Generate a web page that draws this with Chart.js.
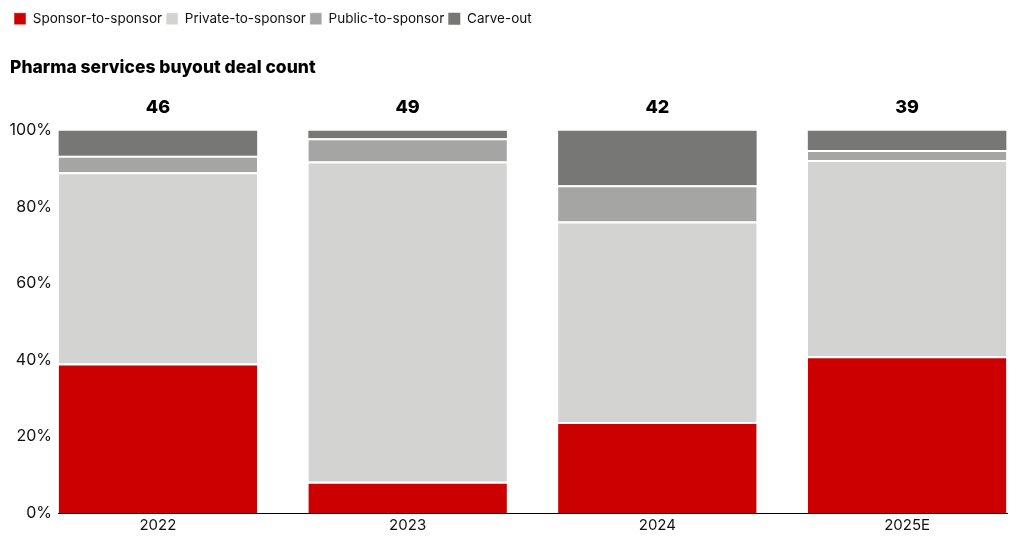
<!DOCTYPE html>
<html>
<head>
<meta charset="utf-8">
<script src="https://cdn.jsdelivr.net/npm/chart.js@4.4.1/dist/chart.umd.min.js"></script>
<style>
  html, body { margin: 0; padding: 0; background: #fff; }
  #wrap { width: 1020px; height: 546px; position: relative; }
</style>
</head>
<body>
<div id="wrap"><canvas id="c"></canvas></div>
<script>
const categories = ["2022", "2023", "2024", "2025E"];
const dealCounts = [46, 49, 42, 39];
const sponsorToSponsor = [39.1, 8.2, 23.8, 41.0];
const privateToSponsor = [50.0, 83.7, 52.4, 51.3];
const publicToSponsor = [4.3, 6.1, 9.5, 2.6];
const carveOut = [6.6, 2.0, 14.3, 5.1];
const yTicks = [0, 20, 40, 60, 80, 100];

const seriesNames = ["Sponsor-to-sponsor", "Private-to-sponsor", "Public-to-sponsor", "Carve-out"];
const seriesValues = [sponsorToSponsor, privateToSponsor, publicToSponsor, carveOut];
const seriesColors = ["#cc0000", "#d3d3d2", "#a5a5a4", "#777776"];

const FONT = "Inter, 'Liberation Sans', Arial, sans-serif";

const datasets = seriesNames.map((name, si) => ({
  label: name,
  data: seriesValues[si].map((v, i) => ({ x: i, y: v })),
  backgroundColor: seriesColors[si],
  borderColor: "#ffffff",
  borderWidth: si < 3 ? { top: 2, bottom: 0, left: 0, right: 0 } : 0,
  borderSkipped: false,
  barPercentage: 0.795,
  categoryPercentage: 1.0,
  stack: "s"
}));

const totalsPlugin = {
  id: "totals",
  afterDatasetsDraw(chart) {
    const { ctx, scales, chartArea } = chart;
    ctx.save();
    ctx.font = "800 18px " + FONT;
    ctx.fillStyle = "#000";
    ctx.textAlign = "center";
    ctx.textBaseline = "middle";
    dealCounts.forEach((n, i) => {
      ctx.fillText(String(n), scales.x.getPixelForValue(i), chartArea.top - 23);
    });
    ctx.restore();
  }
};

new Chart(document.getElementById("c"), {
  type: "bar",
  data: { datasets },
  plugins: [totalsPlugin],
  options: {
    responsive: true,
    maintainAspectRatio: false,
    animation: false,
    layout: { padding: { left: 10, right: 13, top: 8, bottom: 9 } },
    plugins: {
      tooltip: { enabled: false },
      legend: {
        position: "top",
        align: "start",
        weight: 3000,
        labels: {
          boxWidth: 12,
          boxHeight: 12,
          padding: 4,
          color: "#111",
          font: { family: FONT, size: 13.5 }
        }
      },
      title: {
        display: true,
        text: "Pharma services buyout deal count",
        align: "start",
        color: "#000",
        font: { family: FONT, size: 17.5, weight: 800 },
        padding: { top: 22, bottom: 52 }
      }
    },
    scales: {
      x: {
        type: "linear",
        stacked: true,
        min: -0.4,
        max: 3.4,
        offset: false,
        grid: { display: false, drawTicks: false },
        border: { display: true, color: "#000", width: 1 },
        afterBuildTicks(scale) {
          scale.ticks = categories.map((c, i) => ({ value: i }));
        },
        ticks: {
          color: "#111",
          padding: 3,
          font: { family: FONT, size: 15 },
          callback: (v) => categories[v]
        }
      },
      y: {
        stacked: true,
        min: 0,
        max: 100,
        grid: { display: false, drawTicks: false },
        border: { display: false },
        afterBuildTicks(scale) {
          scale.ticks = yTicks.map(v => ({ value: v }));
        },
        afterFit(scale) { scale.width = 48; },
        ticks: {
          color: "#111",
          padding: 6,
          font: { family: FONT, size: 16 },
          callback: (v) => v + "%"
        }
      }
    }
  }
});
</script>
</body>
</html>
